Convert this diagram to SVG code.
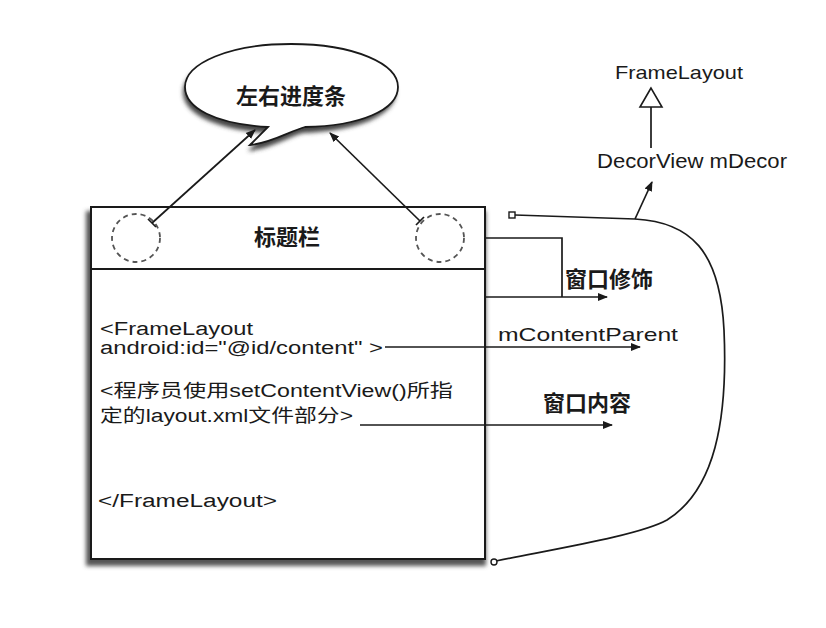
<svg xmlns="http://www.w3.org/2000/svg" width="826" height="628" viewBox="0 0 826 628">
  <defs>
    <style>
      .ln { stroke: #1a1a1a; stroke-width: 1.7; fill: none; }
      .t { font-family: "Liberation Sans", "Noto Sans CJK SC", sans-serif; fill: #1a1a1a; }
      .cjk { font-family: "Noto Sans CJK SC", "Liberation Sans", sans-serif; fill: #1a1a1a; font-weight: bold; }
      .dash { stroke: #555; stroke-width: 1.8; fill: none; stroke-dasharray: 5 4; }
    </style>
    <filter id="shadow" x="-10%" y="-10%" width="120%" height="125%">
      <feGaussianBlur stdDeviation="2.2"/>
    </filter>
    <marker id="arr" viewBox="0 0 10 10" refX="9" refY="5" markerWidth="10" markerHeight="10" markerUnits="userSpaceOnUse" orient="auto">
      <path d="M0,1 L10,5 L0,9 Z" fill="#1a1a1a"/>
    </marker>
  </defs>
  <rect width="826" height="628" fill="#fff"/>

  <!-- speech bubble -->
  <g id="bubble">
    <path d="M291,46 C355,46 398,66 398,89 C398,112 360,128 305,130 C290,134 272,146 250,148 L268,130 C215,126 185,110 185,89 C185,65 230,46 291,46 Z" fill="#444" filter="url(#shadow)" transform="translate(-2,3)"/>
    <path d="M291,44 C355,44 398,64 398,87 C398,110 360,126 305,127 C290,131 272,143 250,145 L268,127 C215,124 185,108 185,87 C185,63 230,44 291,44 Z" fill="#fff" stroke="#1a1a1a" stroke-width="1.8"/>
    <text class="cjk" x="291" y="104" font-size="22" text-anchor="middle">左右进度条</text>
  </g>

  <!-- main window box -->
  <g id="window">
    <rect x="86" y="211" width="400" height="355" fill="#555" filter="url(#shadow)"/>
    <rect x="91" y="207" width="394" height="352" fill="#fff" stroke="#1a1a1a" stroke-width="2"/>
    <line x1="91" y1="269" x2="485" y2="269" stroke="#1a1a1a" stroke-width="1.8"/>
    <text class="cjk" x="287" y="245" font-size="22" text-anchor="middle">标题栏</text>
    <circle class="dash" cx="136" cy="238" r="24"/>
    <circle class="dash" cx="440" cy="238" r="24"/>
    <text class="t" x="100" y="335" font-size="18" textLength="153" lengthAdjust="spacingAndGlyphs">&lt;FrameLayout</text>
    <text class="t" x="100" y="354" font-size="18" textLength="283" lengthAdjust="spacingAndGlyphs">android:id="@id/content" &gt;</text>
    <text class="t" x="100" y="397" font-size="18" textLength="353" lengthAdjust="spacingAndGlyphs">&lt;程序员使用setContentView()所指</text>
    <text class="t" x="100" y="422" font-size="18" textLength="253" lengthAdjust="spacingAndGlyphs">定的layout.xml文件部分&gt;</text>
    <text class="t" x="98" y="507" font-size="18" textLength="179" lengthAdjust="spacingAndGlyphs">&lt;/FrameLayout&gt;</text>
  </g>

  <!-- labels on the right -->
  <g id="framelayout">
    <text class="t" x="615" y="79" font-size="19" textLength="128" lengthAdjust="spacingAndGlyphs">FrameLayout</text>
  </g>
  <g id="decorview">
    <text class="t" x="597" y="168" font-size="20" textLength="190" lengthAdjust="spacingAndGlyphs">DecorView mDecor</text>
  </g>
  <g id="decor-label">
    <text class="cjk" x="565" y="287" font-size="22">窗口修饰</text>
  </g>
  <g id="mcontentparent">
    <text class="t" x="498" y="341" font-size="19" textLength="180" lengthAdjust="spacingAndGlyphs">mContentParent</text>
  </g>
  <g id="content-label">
    <text class="cjk" x="543" y="411" font-size="22">窗口内容</text>
  </g>

  <!-- connectors -->
  <g id="connectors">
    <!-- title bar buttons to bubble -->
    <line class="ln" x1="152" y1="223" x2="255" y2="130" marker-end="url(#arr)"/>
    <line class="ln" x1="148" y1="219" x2="156" y2="227"/>
    <line class="ln" x1="420" y1="221" x2="330" y2="133" marker-end="url(#arr)"/>
    <line class="ln" x1="416" y1="225" x2="424" y2="217"/>
    <!-- inheritance -->
    <line class="ln" x1="651" y1="148" x2="651" y2="107"/>
    <polygon points="651,88 640,107 662,107" fill="#fff" stroke="#1a1a1a" stroke-width="1.6"/>
    <!-- decor bracket -->
    <polyline class="ln" points="486,238 562,238 562,297"/>
    <line class="ln" x1="486" y1="297" x2="607" y2="297" marker-end="url(#arr)"/>
    <!-- content parent -->
    <line class="ln" x1="385" y1="347" x2="640" y2="347" marker-end="url(#arr)"/>
    <!-- content -->
    <line class="ln" x1="360" y1="425" x2="612" y2="425" marker-end="url(#arr)"/>
    <!-- DecorView enclosing curve -->
    <path class="ln" d="M515,215 L635,219 C690,222 720,250 724,330 C728,420 715,490 667,520 C640,535 560,548 496,561"/>
    <rect x="509" y="212" width="6" height="6" fill="#fff" stroke="#1a1a1a" stroke-width="1.4"/>
    <circle cx="494" cy="562" r="3" fill="#fff" stroke="#1a1a1a" stroke-width="1.4"/>
    <line class="ln" x1="635" y1="219" x2="652" y2="182" marker-end="url(#arr)"/>
  </g>
</svg>
